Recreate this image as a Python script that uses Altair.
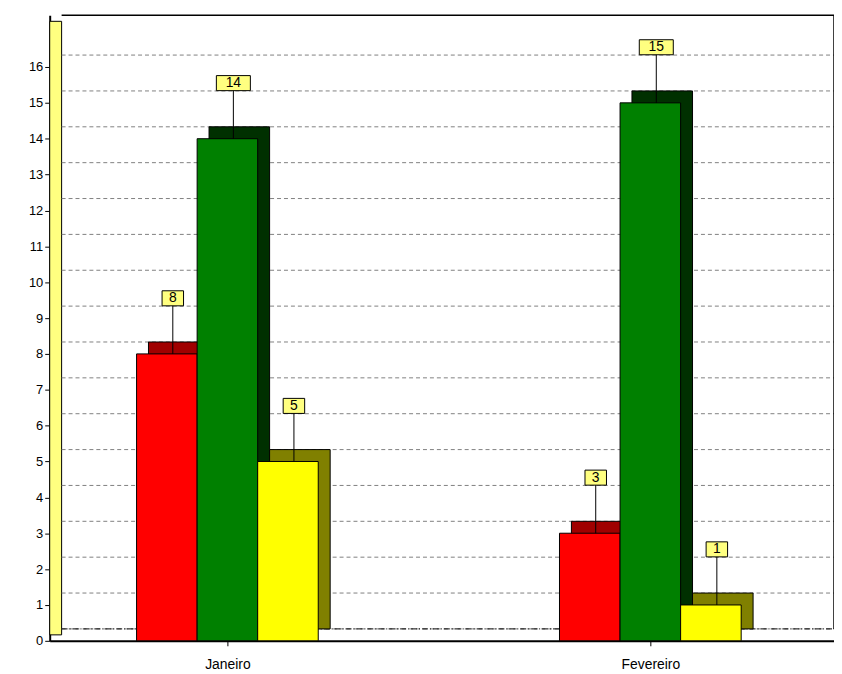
import pandas as pd
import altair as alt

months = ["Janeiro", "Fevereiro"]
series = ["A", "B", "C"]
values = {"A": [8, 3], "B": [14, 15], "C": [5, 1]}
front = {"A": "#ff0000", "B": "#008000", "C": "#ffff00"}
side = {"A": "#a00000", "B": "#003000", "C": "#808000"}
yticks = list(range(0, 17))

W, H = 790, 630
PX = 426.0          # pixels per category unit
X0 = -179 / PX
YMAX = H / 36.125
bw = 61 / PX

rows = []
for i, m in enumerate(months):
    for k, s in enumerate(series):
        v = values[s][i]
        c = i + (k - 1) * bw
        lab = str(v)
        rows.append({"month": m, "s": s, "v": v, "x": c - bw / 2, "x2": c + bw / 2,
                     "xc": c + 6 / PX, "ly": v + 1.55, "lab": lab,
                     "box": "M-0.6,-0.42L0.6,-0.42L0.6,0.42L-0.6,0.42Z" if len(lab) == 1 else "M-0.95,-0.42L0.95,-0.42L0.95,0.42L-0.95,0.42Z",
                     "front": front[s], "side": side[s]})
df = pd.DataFrame(rows)
grid = pd.DataFrame({"y": yticks})

xs = alt.Scale(domain=[X0, X0 + W / PX], nice=False, zero=False)
ys = alt.Scale(domain=[0, YMAX], nice=False, zero=False)

yax = alt.Axis(values=yticks, title=None, grid=False, labelFontSize=13, labelColor="black",
               domainColor="black", domainWidth=2, tickColor="black", labelFont="Liberation Sans",
               labelOverlap=False, labelFlush=False)
xax = alt.Axis(values=[0, 1], labelExpr="datum.value == 0 ? 'Janeiro' : 'Fevereiro'",
               title=None, grid=False, labelFontSize=14, labelColor="black",
               domainColor="black", domainWidth=2, tickColor="black",
               labelFont="Liberation Sans", labelPadding=12, labelFlush=False, labelOverlap=False)

def Y(f):
    return alt.Y(f, scale=ys, axis=yax)

def X(f):
    return alt.X(f, scale=xs, axis=xax)

base = alt.Chart(df)

wall = alt.Chart(grid).transform_filter("datum.y == 0").mark_rect(
    color="#ffff80", stroke="black", strokeWidth=1).encode(
    x=alt.value(0), x2=alt.value(12), y=alt.value(H - 6), y2=alt.value(6))

gridlines = alt.Chart(grid).mark_rule(color="#808080", strokeDash=[4, 3], yOffset=-12).encode(
    x=alt.value(12), x2=alt.value(W), y=Y("y:Q"))
zero = alt.Chart(grid).transform_filter("datum.y == 0").mark_rule(
    color="black", strokeDash=[6, 2, 1, 2], yOffset=-12).encode(
    x=alt.value(12), x2=alt.value(W), y=Y("y:Q"))

back = base.mark_bar(xOffset=12, yOffset=-12, x2Offset=12, y2Offset=-12, stroke="black", strokeWidth=1).encode(
    x=X("x:Q"), x2="x2:Q", y=Y("v:Q"), y2=alt.datum(0),
    color=alt.Color("side:N", scale=None))
fr = base.mark_bar(stroke="black", strokeWidth=1).encode(
    x=X("x:Q"), x2="x2:Q", y=Y("v:Q"), y2=alt.datum(0),
    color=alt.Color("front:N", scale=None))

lead = base.mark_rule(color="black").encode(x=X("xc:Q"), y=Y("v:Q"), y2="ly:Q")
boxes = base.mark_point(filled=True, fill="#ffff80", stroke="black", strokeWidth=1, size=1300, opacity=1).encode(
    x=X("xc:Q"), y=Y("ly:Q"), shape=alt.Shape("box:N", scale=None))
txt = base.mark_text(fontSize=14, font="Liberation Sans", color="black").encode(
    x=X("xc:Q"), y=Y("ly:Q"), text="lab:N")

frame = alt.Chart(grid).transform_filter("datum.y == 0").mark_rule(color="black", strokeWidth=1.5).encode(
    x=alt.value(12), x2=alt.value(W), y=alt.value(0))
frame_r = alt.Chart(grid).transform_filter("datum.y == 0").mark_rule(color="black", strokeWidth=1.5).encode(
    x=alt.value(W), y=alt.value(0), y2=alt.value(H - 12))

chart = alt.layer(wall, gridlines, zero, frame, frame_r, back, fr, lead, boxes, txt).properties(
    width=W, height=H, autosize=alt.AutoSizeParams(type="none"),
    padding={"left": 42, "top": 5, "right": 0, "bottom": 30}
).configure_view(stroke=None).configure_axis(ticks=True)

chart.save("out.html", embed_options={"renderer": "svg", "actions": False})
